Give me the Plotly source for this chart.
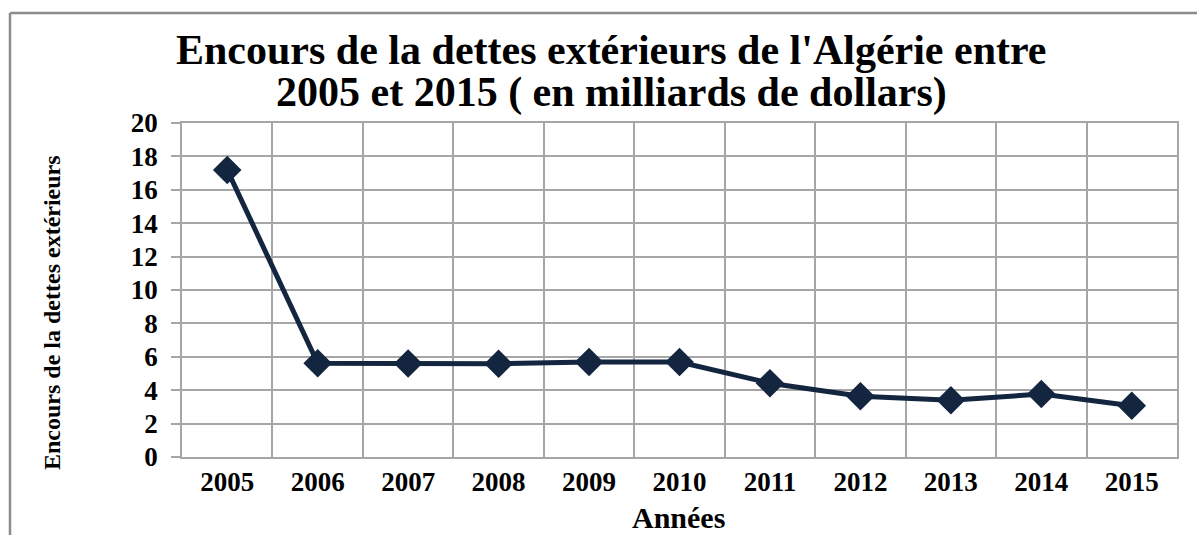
import plotly.graph_objects as go

years = ["2005", "2006", "2007", "2008", "2009", "2010", "2011", "2012", "2013", "2014", "2015"]
debt = [17.19, 5.61, 5.60, 5.58, 5.69, 5.69, 4.42, 3.64, 3.40, 3.77, 3.07]
y_ticks = list(range(0, 21, 2))

title_line1 = "Encours de la dettes extérieurs de l'Algérie entre"
title_line2 = "2005 et 2015 ( en milliards de dollars)"
y_title = "Encours de la dettes extérieurs"
x_title = "Années"

SERIF = "Liberation Serif, Times New Roman, serif"
NAVY = "#14253f"
GRID = "#a6a6a6"

fig = go.Figure()
fig.add_trace(go.Scatter(
    x=years, y=debt, mode="lines+markers",
    line=dict(color=NAVY, width=5),
    marker=dict(symbol="diamond", size=22, color=NAVY),
    showlegend=False,
))

W, H = 1197, 535
L, R, T, B = 182, 20, 123, 78
pw, ph = W - L - R, H - T - B

def px(x):
    return (x - L) / pw

def py(y):
    return (H - B - y) / ph

fig.update_layout(
    width=W, height=H,
    margin=dict(l=L, r=R, t=T, b=B, autoexpand=False),
    paper_bgcolor="white", plot_bgcolor="white",
    xaxis=dict(
        type="category", range=[-0.5, 10.5], tickson="boundaries", automargin=False,
        showgrid=True, gridcolor=GRID, gridwidth=1.5,
        showline=True, linecolor=GRID, linewidth=1.5, mirror=True,
        ticks="", tickfont=dict(family=SERIF, size=27, color="black", weight="bold"),
    ),
    yaxis=dict(
        range=[0, 20], tickvals=y_ticks, showgrid=True, gridcolor=GRID, gridwidth=1.5,
        showline=True, linecolor=GRID, linewidth=1.5, mirror=True, automargin=False,
        ticks="outside", ticklen=9, tickcolor=GRID, tickwidth=1.5,
        ticklabelstandoff=8,
        tickfont=dict(family=SERIF, size=27, color="black", weight="bold"),
        zeroline=False,
    ),
)

for txt, yc in [(title_line1, 50), (title_line2, 92)]:
    fig.add_annotation(
        text=txt, xref="paper", yref="paper", x=px(611), y=py(yc),
        xanchor="center", yanchor="middle", showarrow=False,
        font=dict(family=SERIF, size=42, color="black", weight="bold"),
    )

fig.add_annotation(
    text=x_title, xref="paper", yref="paper", x=px(678), y=py(517),
    xanchor="center", yanchor="middle", showarrow=False,
    font=dict(family=SERIF, size=30, color="black", weight="bold"),
)

fig.add_annotation(
    text=y_title, textangle=-90, xref="paper", yref="paper",
    x=px(52), y=py(313), xanchor="center", yanchor="middle", showarrow=False,
    font=dict(family=SERIF, size=24, color="black", weight="bold"),
)

# outer chart frame (top and left edges visible)
fig.add_shape(type="line", xref="paper", yref="paper",
              x0=px(10), y0=py(13), x1=px(W + 5), y1=py(13),
              line=dict(color="#8c8c8c", width=2.5))
fig.add_shape(type="line", xref="paper", yref="paper",
              x0=px(10), y0=py(13), x1=px(10), y1=py(H + 5),
              line=dict(color="#8c8c8c", width=2.5))

fig.write_html("out.html", config={"displayModeBar": False},
               post_script="document.body.style.margin='0';document.body.style.overflow='hidden';")
